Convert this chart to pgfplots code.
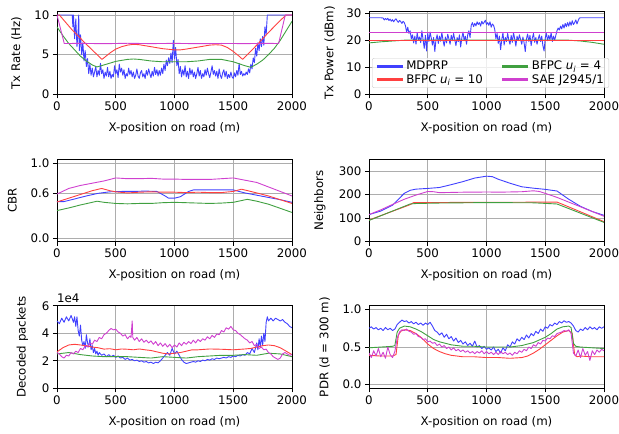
\documentclass[border=0pt]{standalone}
\usepackage{fontspec}
\setmainfont{DejaVu Sans}
\usepackage{pgfplots}
\pgfplotsset{compat=1.18}
\definecolor{cB}{RGB}{64,64,255}
\definecolor{cR}{RGB}{255,64,64}
\definecolor{cG}{RGB}{64,160,64}
\definecolor{cM}{RGB}{207,64,207}
\newcommand\fs{\fontsize{11.8}{14}\selectfont}
\pgfplotsset{
  base/.style={
    scale only axis, width=235pt, height=82.5pt,
    xmin=0, xmax=2000, xtick={0,500,1000,1500,2000},
    grid=major, grid style={color=black!32, line width=0.7pt},
    axis line style={black, line width=0.8pt},
    tick align=outside, tick pos=left, major tick length=4pt,
    every tick/.style={black, line width=0.8pt},
    /pgf/number format/assume math mode=true,
    /pgf/number format/1000 sep={},
    tick label style={font=\fs},
    label style={font=\fs},
    xlabel={X-position on road (m)},
    xlabel style={at={(axis description cs:0.5,-0.445)}, anchor=base},
    no markers,
    every axis plot/.append style={line width=0.9pt, line join=round},
  },
  ylab/.style={ylabel style={at={(axis description cs:#1,0.5)}, anchor=base}},
}
\begin{document}
\begin{tikzpicture}
\useasboundingbox (0,0) rectangle (619pt,434pt);
% ---------------- Tx Rate
\begin{axis}[base, at={(57pt,339.7pt)}, anchor=south west,
  ymin=0, ymax=10.4, ytick={0,5,10}, ylabel={Tx Rate (Hz)}, ylab=-0.157]
\addplot[cB] coordinates {(0,10)(40,10)(80,10)(120,10)(130,10)(135,8.5)(140,10)(150,7)(160,9.5)(170,6)(180,8)(185,10)(190,5.5)(200,7.5)(210,5)(220,6.5)(230,4.2)(240,5.5)(250,3.5)(260,4.5)(270,2.6)(280,3.8)(290,2.4)(300,3.3)(310,2.2)(320,2.8)(330,3.5)(340,2.2)(350,3.0)(360,2.4)(370,3.9)(380,2.6)(390,3.1)(400,2.0)(410,2.8)(420,2.3)(430,3.4)(440,2.2)(450,2.9)(460,2.0)(470,2.5)(480,2.2)(490,3.6)(500,2.6)(510,3.1)(520,2.1)(530,3.8)(540,2.8)(550,3.3)(560,2.4)(570,3.1)(580,2.0)(590,2.6)(600,2.3)(610,3.3)(620,2.5)(630,3.0)(640,2.2)(650,2.8)(660,2.0)(670,2.4)(680,3.2)(690,2.3)(700,2.0)(710,2.7)(720,3.0)(730,2.2)(740,2.6)(750,2.0)(760,3.0)(770,2.4)(780,3.2)(790,2.6)(800,2.1)(810,2.9)(820,2.3)(830,3.4)(840,2.5)(850,3.1)(860,2.3)(870,3.0)(880,2.4)(890,3.3)(900,2.6)(910,3.8)(920,3.0)(930,4.3)(940,3.6)(950,4.6)(960,3.9)(970,5.2)(980,4.0)(990,6.8)(1000,4.5)(1010,5.9)(1020,3.6)(1030,4.4)(1040,2.6)(1050,3.5)(1060,2.2)(1070,3.1)(1080,2.4)(1090,3.6)(1100,2.2)(1110,2.9)(1120,2.0)(1130,3.3)(1140,2.5)(1150,3.1)(1160,2.2)(1170,2.8)(1180,2.0)(1190,2.6)(1200,3.4)(1210,2.3)(1220,3.0)(1230,2.0)(1240,2.6)(1250,2.2)(1260,3.1)(1270,2.4)(1280,3.3)(1290,2.6)(1300,2.1)(1310,2.8)(1320,3.6)(1330,2.5)(1340,3.0)(1350,2.3)(1360,2.9)(1370,2.0)(1380,3.2)(1390,2.4)(1400,2.0)(1410,2.7)(1420,3.1)(1430,2.2)(1440,2.9)(1450,2.0)(1460,2.5)(1470,2.1)(1480,2.8)(1490,2.2)(1500,2.0)(1510,2.7)(1520,2.2)(1530,3.0)(1540,2.4)(1550,3.9)(1560,2.5)(1570,2.9)(1580,2.3)(1590,2.6)(1600,2.4)(1610,2.8)(1620,2.5)(1630,3.2)(1640,2.7)(1650,3.8)(1660,3.2)(1670,4.6)(1680,4.0)(1690,5.8)(1700,4.8)(1710,6.5)(1720,5.5)(1730,7.0)(1740,6.0)(1750,7.3)(1760,6.2)(1770,8.5)(1780,7.5)(1790,10)(1800,10)(1900,10)(2000,10)};
\addplot[cR] coordinates {(0,10)(20,10)(128,8.13)(250,6.3)(383,4.4)(450,5.2)(500,5.7)(550,6.0)(600,6.2)(650,6.3)(700,6.25)(800,6.0)(900,5.75)(1000,5.6)(1050,5.6)(1100,5.7)(1200,5.95)(1300,6.2)(1350,6.25)(1400,6.2)(1450,5.9)(1500,5.4)(1550,4.8)(1580,4.4)(1700,6.2)(1800,7.8)(1900,9.3)(1950,10)(2000,10)};
\addplot[cG] coordinates {(0,8.5)(50,7.4)(100,6.4)(150,5.6)(200,4.8)(250,4.2)(300,3.7)(340,3.45)(400,3.7)(500,4.15)(600,4.4)(650,4.45)(700,4.4)(800,4.2)(900,4.1)(1000,4.1)(1100,4.1)(1200,4.2)(1300,4.4)(1400,4.4)(1500,4.1)(1600,3.6)(1650,3.4)(1700,3.8)(1750,4.3)(1800,5.0)(1850,5.8)(1900,6.8)(1950,8.0)(2000,9.2)};
\addplot[cM] coordinates {(0,10)(62,6.4)(200,6.42)(400,6.38)(600,6.43)(800,6.39)(1000,6.42)(1200,6.38)(1400,6.41)(1600,6.39)(1800,6.42)(1886,6.4)(1943,10)(2000,10)};
\end{axis}
% ---------------- Tx Power
\begin{axis}[base, at={(369pt,339.7pt)}, anchor=south west,
  ymin=0, ymax=30.5, ytick={0,10,20,30}, ylabel={Tx Power (dBm)}, ylab=-0.152,
  legend columns=2, legend cell align=left,
  legend style={at={(axis description cs:0.013,0.077)}, anchor=south west, draw=black!20, rounded corners=2pt, fill=white, fill opacity=0.8, text opacity=1, font=\fs, inner xsep=3pt, inner ysep=1pt, row sep=-1pt, /tikz/every even column/.append style={column sep=16pt}},
  legend image code/.code={\draw[#1, line width=3pt] (0pt,0pt) -- (26pt,0pt);}]
\addplot[cB] coordinates {(0,28.3)(50,28.3)(100,28.3)(120,28.2)(130,27.5)(140,28.0)(150,27.6)(160,28.1)(170,27.3)(180,27.8)(190,27.0)(200,27.6)(210,26.8)(220,27.5)(230,27.9)(240,27.1)(250,26.6)(260,27.3)(270,26.9)(280,26.2)(290,27.0)(300,26.5)(310,25.4)(320,23.0)(330,24.8)(340,22.5)(350,23.5)(360,20.5)(370,22.0)(380,19.0)(390,21.5)(400,18.5)(410,22.8)(420,20.0)(430,21.2)(440,19.1)(450,23.5)(460,20.3)(470,17.0)(480,21.8)(490,16.0)(500,22.5)(510,19.5)(520,23.0)(530,20.8)(540,18.2)(550,21.0)(560,15.8)(570,20.2)(580,22.0)(590,18.8)(600,21.5)(610,19.6)(620,22.8)(630,20.0)(640,17.8)(650,21.2)(660,19.0)(670,22.2)(680,20.5)(690,18.5)(700,21.8)(710,19.8)(720,22.5)(730,20.2)(740,18.0)(750,21.0)(760,19.5)(770,22.0)(780,17.5)(790,20.8)(800,23.0)(810,19.8)(820,21.5)(830,18.5)(840,22.0)(850,23.5)(860,21.0)(870,25.5)(880,26.5)(890,25.0)(900,26.2)(910,25.3)(920,26.8)(930,25.8)(940,26.5)(950,25.2)(960,27.0)(970,26.0)(980,26.6)(990,27.4)(1000,25.8)(1010,26.5)(1020,25.5)(1030,26.8)(1040,24.8)(1050,26.0)(1060,25.5)(1070,24.0)(1080,20.5)(1090,22.5)(1100,18.8)(1110,21.5)(1120,16.5)(1130,20.2)(1140,22.8)(1150,18.2)(1160,21.0)(1170,19.5)(1180,22.5)(1190,20.0)(1200,18.5)(1210,21.8)(1220,19.2)(1230,22.8)(1240,20.5)(1250,17.8)(1260,21.5)(1270,19.8)(1280,22.0)(1290,20.2)(1300,18.5)(1310,21.2)(1320,19.0)(1330,15.8)(1340,20.5)(1350,22.3)(1360,19.5)(1370,21.8)(1380,18.0)(1390,20.8)(1400,22.5)(1410,19.2)(1420,21.0)(1430,18.5)(1440,20.5)(1450,22.0)(1460,19.5)(1470,21.5)(1480,18.0)(1490,16.0)(1500,20.8)(1510,22.5)(1520,19.8)(1530,21.8)(1540,20.2)(1550,22.8)(1560,19.5)(1570,21.5)(1580,20.0)(1590,21.8)(1600,23.5)(1610,24.5)(1620,23.8)(1630,25.2)(1640,24.2)(1650,25.8)(1660,24.5)(1670,26.2)(1680,25.0)(1690,26.5)(1700,25.2)(1710,26.8)(1720,25.5)(1730,27.2)(1740,25.8)(1750,26.5)(1760,27.5)(1770,26.0)(1780,27.2)(1790,28.2)(1800,28.3)(2000,28.3)};
\addlegendentry{MDPRP}
\addplot[cG] coordinates {(0,19.0)(100,19.4)(200,19.7)(300,20)(1700,20)(1800,19.7)(1900,19.2)(2000,18.5)};
\addlegendentry{BFPC \textit{u}\textsubscript{\textit{i}} = 4}
\addplot[cR] coordinates {(0,20)(2000,20)};
\addlegendentry{BFPC \textit{u}\textsubscript{\textit{i}} = 10}
\addplot[cM] coordinates {(0,23)(2000,23)};
\addlegendentry{SAE J2945/1}
\end{axis}
% ---------------- CBR
\begin{axis}[base, at={(57pt,192.3pt)}, anchor=south west,
  ymin=-0.05, ymax=1.05, ytick={0,0.6,1}, yticklabels={0.0,0.6,1.0}, ylabel={CBR}, ylab=-0.1715]
\addplot[cB] coordinates {(0,0.485)(60,0.485)(150,0.52)(250,0.56)(350,0.595)(450,0.615)(550,0.62)(650,0.62)(750,0.625)(850,0.62)(920,0.56)(950,0.53)(1000,0.53)(1050,0.55)(1120,0.62)(1160,0.64)(1300,0.64)(1400,0.64)(1500,0.64)(1600,0.60)(1700,0.57)(1800,0.54)(1900,0.51)(2000,0.475)};
\addplot[cR] coordinates {(0,0.48)(100,0.53)(200,0.58)(300,0.63)(380,0.66)(450,0.63)(500,0.615)(600,0.60)(700,0.61)(800,0.615)(900,0.61)(1000,0.61)(1100,0.605)(1200,0.61)(1300,0.605)(1400,0.605)(1500,0.62)(1570,0.65)(1650,0.62)(1800,0.56)(1900,0.51)(2000,0.46)};
\addplot[cG] coordinates {(0,0.365)(100,0.40)(200,0.44)(300,0.475)(340,0.49)(400,0.475)(500,0.46)(600,0.455)(700,0.46)(800,0.46)(900,0.47)(1000,0.475)(1100,0.47)(1200,0.465)(1300,0.46)(1400,0.465)(1500,0.475)(1620,0.515)(1700,0.49)(1800,0.45)(1900,0.395)(2000,0.34)};
\addplot[cM] coordinates {(0,0.585)(100,0.66)(200,0.70)(300,0.73)(400,0.76)(500,0.80)(600,0.79)(700,0.79)(800,0.795)(900,0.785)(1000,0.785)(1100,0.78)(1200,0.78)(1300,0.78)(1400,0.79)(1500,0.80)(1600,0.77)(1700,0.74)(1800,0.68)(1900,0.62)(2000,0.56)};
\end{axis}
% ---------------- Neighbors
\begin{axis}[base, at={(369pt,192.3pt)}, anchor=south west,
  ymin=0, ymax=350, ytick={0,100,200,300}, ylabel={Neighbors}, ylab=-0.195]
\addplot[cB] coordinates {(0,115)(100,130)(200,155)(250,180)(300,205)(350,218)(400,223)(500,226)(600,230)(700,242)(800,255)(900,270)(1000,278)(1050,276)(1100,265)(1200,248)(1300,233)(1400,227)(1500,222)(1600,215)(1700,180)(1800,150)(1900,128)(2000,112)};
\addplot[cR] coordinates {(0,92)(350,157)(380,166)(1600,168)(1650,158)(2000,85)};
\addplot[cG] coordinates {(0,90)(350,160)(400,162)(600,164)(1000,166)(1400,165)(1600,160)(2000,82)};
\addplot[cM] coordinates {(0,115)(100,135)(200,158)(300,180)(400,198)(500,213)(550,212)(600,208)(700,209)(800,210)(900,210)(1000,211)(1100,210)(1200,211)(1300,212)(1400,216)(1450,213)(1500,205)(1600,188)(1700,168)(1800,148)(1900,128)(2000,108)};
\end{axis}
% ---------------- Decoded packets
\begin{axis}[base, at={(57pt,45.7pt)}, anchor=south west,
  ymin=0, ymax=6, ytick={0,2,4,6}, ylabel={Decoded packets}, ylab=-0.134,
  after end axis/.code={\node[anchor=base west, font=\fs, inner sep=0pt] at (axis description cs:0,1.04) {1e4};}]
\addplot[cB] coordinates {(0,4.9)(20,4.7)(40,5.1)(60,4.8)(80,5.2)(100,4.9)(120,5.3)(140,4.8)(150,5.2)(160,4.5)(170,5.2)(180,4.2)(190,3.8)(200,4.6)(210,3.5)(220,3.1)(230,3.4)(240,2.9)(250,3.9)(260,3.3)(270,3.0)(280,3.6)(290,2.8)(300,3.1)(310,2.6)(320,2.9)(330,2.5)(340,2.7)(350,2.4)(360,2.6)(380,2.4)(400,2.5)(420,2.3)(440,2.45)(460,2.3)(480,2.4)(500,2.25)(520,2.35)(540,2.2)(560,2.25)(580,2.1)(600,2.2)(620,2.05)(640,2.1)(660,2.0)(680,2.05)(700,1.95)(720,2.0)(740,1.9)(760,1.95)(780,1.85)(800,1.9)(820,1.8)(840,1.9)(860,1.85)(880,2.0)(900,2.2)(920,2.4)(940,2.6)(960,2.4)(980,2.9)(1000,2.5)(1020,2.7)(1040,2.4)(1060,2.1)(1080,1.9)(1100,1.8)(1120,1.85)(1140,1.9)(1160,1.95)(1180,1.9)(1200,2.0)(1220,1.95)(1240,2.05)(1260,2.0)(1280,2.1)(1300,2.05)(1320,2.15)(1340,2.1)(1360,2.2)(1380,2.15)(1400,2.2)(1420,2.25)(1440,2.2)(1460,2.3)(1480,2.25)(1500,2.35)(1520,2.3)(1540,2.4)(1560,2.35)(1580,2.45)(1600,2.4)(1620,2.6)(1640,2.5)(1660,2.9)(1680,2.6)(1700,3.3)(1710,2.8)(1720,3.6)(1730,3.0)(1740,3.8)(1750,3.1)(1760,4.0)(1770,3.4)(1780,4.8)(1790,5.2)(1800,4.9)(1820,5.1)(1840,4.9)(1860,5.1)(1880,5.0)(1900,4.9)(1920,5.0)(1940,4.8)(1960,4.7)(1980,4.5)(2000,4.4)};
\addplot[cR] coordinates {(0,2.65)(50,2.95)(100,3.15)(150,3.2)(200,3.15)(250,3.1)(300,3.0)(350,2.95)(400,2.85)(450,2.88)(500,2.8)(550,2.86)(600,2.84)(650,2.8)(700,2.86)(750,2.8)(800,2.75)(850,2.65)(900,2.55)(950,2.5)(1000,2.55)(1050,2.6)(1100,2.7)(1150,2.8)(1200,2.8)(1300,2.86)(1400,2.84)(1500,2.8)(1600,2.86)(1650,2.9)(1700,3.0)(1750,3.1)(1800,3.15)(1850,3.1)(1900,2.95)(1950,2.7)(2000,2.45)};
\addplot[cG] coordinates {(0,2.5)(100,2.6)(200,2.45)(300,2.35)(400,2.3)(500,2.3)(600,2.3)(700,2.25)(800,2.2)(900,2.3)(1000,2.25)(1100,2.2)(1200,2.3)(1300,2.35)(1400,2.4)(1500,2.4)(1600,2.45)(1700,2.4)(1800,2.55)(1900,2.5)(2000,2.3)};
\addplot[cM] coordinates {(0,2.6)(20,2.5)(40,2.3)(60,2.2)(80,2.4)(100,2.35)(120,2.6)(140,2.5)(160,2.7)(180,2.6)(200,2.9)(220,2.8)(240,3.1)(260,3.0)(280,3.3)(300,3.2)(320,3.5)(340,3.4)(360,3.7)(380,3.6)(400,3.9)(420,4.0)(440,4.2)(460,4.35)(480,4.25)(500,4.3)(520,4.1)(540,4.0)(560,3.8)(580,3.9)(600,3.6)(620,3.8)(630,3.7)(640,4.9)(645,3.7)(660,3.5)(680,3.7)(700,3.4)(720,3.6)(740,3.35)(760,3.5)(780,3.3)(800,3.45)(820,3.2)(840,3.4)(860,3.1)(880,3.3)(900,3.05)(920,3.25)(940,3.0)(960,3.2)(980,2.95)(1000,3.15)(1020,3.0)(1040,3.3)(1060,3.1)(1080,3.35)(1100,3.2)(1120,3.4)(1140,3.25)(1160,3.5)(1180,3.3)(1200,3.55)(1220,3.4)(1240,3.6)(1260,3.5)(1280,3.75)(1300,3.6)(1320,3.85)(1340,3.7)(1360,3.95)(1380,3.9)(1400,4.2)(1420,4.1)(1440,4.4)(1460,4.3)(1480,4.5)(1500,4.25)(1520,4.2)(1540,4.0)(1560,3.9)(1580,3.75)(1600,3.6)(1620,3.5)(1640,3.3)(1660,3.4)(1680,3.1)(1700,3.2)(1720,2.9)(1740,3.0)(1760,2.8)(1780,2.85)(1800,2.6)(1820,2.5)(1840,2.3)(1860,2.2)(1880,2.1)(1900,2.2)(1920,2.5)(1940,2.6)(1960,2.5)(1980,2.4)(2000,2.45)};
\end{axis}
% ---------------- PDR
\begin{axis}[base, at={(369pt,45.7pt)}, anchor=south west,
  ymin=-0.05, ymax=1.05, ytick={0,0.5,1}, yticklabels={0.0,0.5,1.0}, ylabel={PDR (d = 300 m)}, ylab=-0.173]
\addplot[cB] coordinates {(0,0.75)(20,0.77)(40,0.74)(60,0.76)(80,0.73)(100,0.75)(120,0.72)(140,0.76)(160,0.73)(180,0.75)(200,0.72)(220,0.74)(240,0.8)(260,0.83)(280,0.86)(300,0.84)(320,0.85)(340,0.82)(360,0.84)(380,0.81)(400,0.83)(420,0.80)(440,0.82)(460,0.79)(480,0.82)(500,0.80)(520,0.83)(540,0.78)(560,0.72)(580,0.70)(600,0.66)(620,0.69)(640,0.63)(660,0.67)(680,0.61)(700,0.64)(720,0.58)(740,0.62)(760,0.56)(780,0.59)(800,0.54)(820,0.57)(840,0.52)(860,0.55)(880,0.51)(900,0.58)(920,0.50)(940,0.52)(960,0.48)(980,0.51)(1000,0.47)(1020,0.49)(1040,0.46)(1060,0.50)(1080,0.44)(1100,0.47)(1120,0.42)(1140,0.49)(1160,0.45)(1180,0.53)(1200,0.50)(1220,0.57)(1240,0.54)(1260,0.61)(1280,0.58)(1300,0.63)(1320,0.60)(1340,0.66)(1360,0.62)(1380,0.68)(1400,0.65)(1420,0.71)(1440,0.68)(1460,0.74)(1480,0.71)(1500,0.77)(1520,0.75)(1540,0.80)(1560,0.78)(1580,0.82)(1600,0.80)(1620,0.84)(1640,0.82)(1660,0.85)(1680,0.83)(1700,0.84)(1720,0.82)(1740,0.78)(1760,0.72)(1780,0.70)(1800,0.74)(1820,0.72)(1840,0.76)(1860,0.73)(1880,0.77)(1900,0.74)(1920,0.76)(1940,0.73)(1960,0.77)(1980,0.75)(2000,0.77)};
\addplot[cR] coordinates {(0,0.39)(100,0.38)(200,0.38)(230,0.40)(250,0.66)(270,0.71)(300,0.73)(350,0.72)(400,0.68)(450,0.62)(500,0.54)(550,0.48)(600,0.44)(650,0.41)(700,0.39)(800,0.37)(900,0.37)(1000,0.36)(1100,0.36)(1200,0.35)(1300,0.36)(1350,0.38)(1400,0.42)(1450,0.47)(1500,0.53)(1550,0.59)(1600,0.65)(1650,0.70)(1700,0.72)(1730,0.68)(1750,0.40)(1770,0.37)(1800,0.38)(1900,0.37)(2000,0.37)};
\addplot[cG] coordinates {(0,0.49)(100,0.50)(200,0.51)(220,0.52)(240,0.70)(260,0.75)(300,0.78)(350,0.77)(400,0.74)(450,0.70)(500,0.65)(550,0.60)(600,0.57)(650,0.55)(700,0.53)(800,0.51)(900,0.51)(1000,0.50)(1100,0.50)(1200,0.50)(1300,0.52)(1400,0.56)(1500,0.63)(1550,0.68)(1600,0.74)(1650,0.77)(1700,0.78)(1720,0.76)(1740,0.55)(1760,0.51)(1800,0.50)(1900,0.49)(2000,0.48)};
\addplot[cM] coordinates {(0,0.42)(20,0.36)(40,0.45)(60,0.38)(80,0.48)(100,0.37)(120,0.43)(140,0.35)(160,0.50)(180,0.40)(200,0.36)(220,0.44)(240,0.62)(260,0.70)(280,0.73)(300,0.72)(320,0.74)(340,0.71)(360,0.70)(380,0.67)(400,0.68)(420,0.64)(440,0.63)(460,0.60)(480,0.61)(500,0.57)(520,0.58)(540,0.55)(560,0.56)(580,0.52)(600,0.54)(620,0.50)(640,0.52)(660,0.48)(680,0.50)(700,0.46)(720,0.49)(740,0.45)(760,0.47)(780,0.44)(800,0.46)(820,0.43)(840,0.45)(860,0.42)(880,0.44)(900,0.41)(920,0.44)(940,0.42)(960,0.45)(980,0.41)(1000,0.44)(1020,0.41)(1040,0.43)(1060,0.40)(1080,0.43)(1100,0.40)(1120,0.44)(1140,0.41)(1160,0.43)(1180,0.40)(1200,0.42)(1220,0.39)(1240,0.43)(1260,0.41)(1280,0.45)(1300,0.43)(1320,0.47)(1340,0.45)(1360,0.50)(1380,0.48)(1400,0.53)(1420,0.51)(1440,0.56)(1460,0.54)(1480,0.59)(1500,0.58)(1520,0.62)(1540,0.61)(1560,0.65)(1580,0.64)(1600,0.68)(1620,0.69)(1640,0.70)(1660,0.72)(1680,0.71)(1700,0.73)(1720,0.68)(1740,0.42)(1760,0.38)(1780,0.46)(1800,0.36)(1820,0.48)(1840,0.39)(1860,0.44)(1880,0.32)(1900,0.45)(1920,0.40)(1940,0.46)(1960,0.43)(1980,0.47)(2000,0.45)};
\end{axis}
\end{tikzpicture}
\end{document}
